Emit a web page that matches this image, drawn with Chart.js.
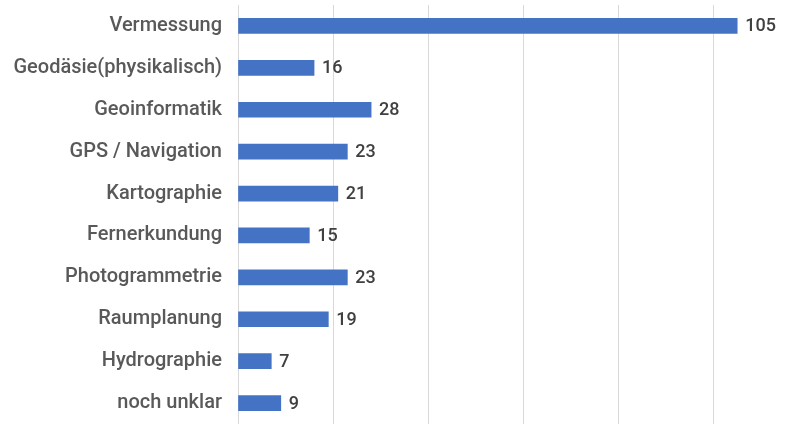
<!DOCTYPE html>
<html>
<head>
<meta charset="utf-8">
<script src="https://cdn.jsdelivr.net/npm/chart.js@4"></script>
<style>
  html, body { margin: 0; padding: 0; background: #fff; }
  #wrap { width: 799px; height: 424px; }
</style>
</head>
<body>
<div id="wrap"><canvas id="chart"></canvas></div>
<script>
const categories = ['Vermessung', 'Geodäsie(physikalisch)', 'Geoinformatik', 'GPS / Navigation', 'Kartographie',
    'Fernerkundung', 'Photogrammetrie', 'Raumplanung', 'Hydrographie', 'noch unklar'];
const counts = [105, 16, 28, 23, 21, 15, 23, 19, 7, 9];

// Werte rechts neben die Balken schreiben
const valueLabels = {
    id: 'valueLabels',
    afterDatasetsDraw(chart) {
        const ctx = chart.ctx;
        const meta = chart.getDatasetMeta(0);
        ctx.save();
        ctx.font = '500 18px Roboto';
        ctx.fillStyle = '#404040';
        ctx.textBaseline = 'middle';
        meta.data.forEach((bar, i) => {
            ctx.fillText(counts[i], bar.x + 8, bar.y + 1);
        });
        ctx.restore();
    }
};

new Chart(document.getElementById('chart'), {
    type: 'bar',
    data: {
        labels: categories,
        datasets: [{
            data: counts,
            backgroundColor: '#4472C4',
            borderWidth: 0,
            barThickness: 15
        }]
    },
    options: {
        indexAxis: 'y',
        responsive: true,
        maintainAspectRatio: false,
        animation: false,
        layout: { padding: { top: 5, right: 0, bottom: 0, left: 0 } },
        plugins: {
            legend: { display: false },
            tooltip: { enabled: false }
        },
        scales: {
            x: {
                min: 0,
                max: 118,
                ticks: { display: false, stepSize: 20 },
                border: { display: false },
                grid: {
                    drawTicks: false,
                    color: c => (c.tick && c.tick.value > 100) ? 'transparent' : '#d9d9d9'
                },
                afterFit(scale) { scale.height = 0; }
            },
            y: {
                border: { display: false },
                grid: { display: false, drawTicks: false },
                ticks: {
                    padding: 16,
                    color: '#595959',
                    font: { family: 'Roboto', size: 20, weight: '500' }
                },
                afterFit(scale) {
                    scale.width = 238;
                    scale.paddingTop = 0;
                    scale.paddingBottom = 0;
                }
            }
        }
    },
    plugins: [valueLabels]
});
</script>
</body>
</html>
